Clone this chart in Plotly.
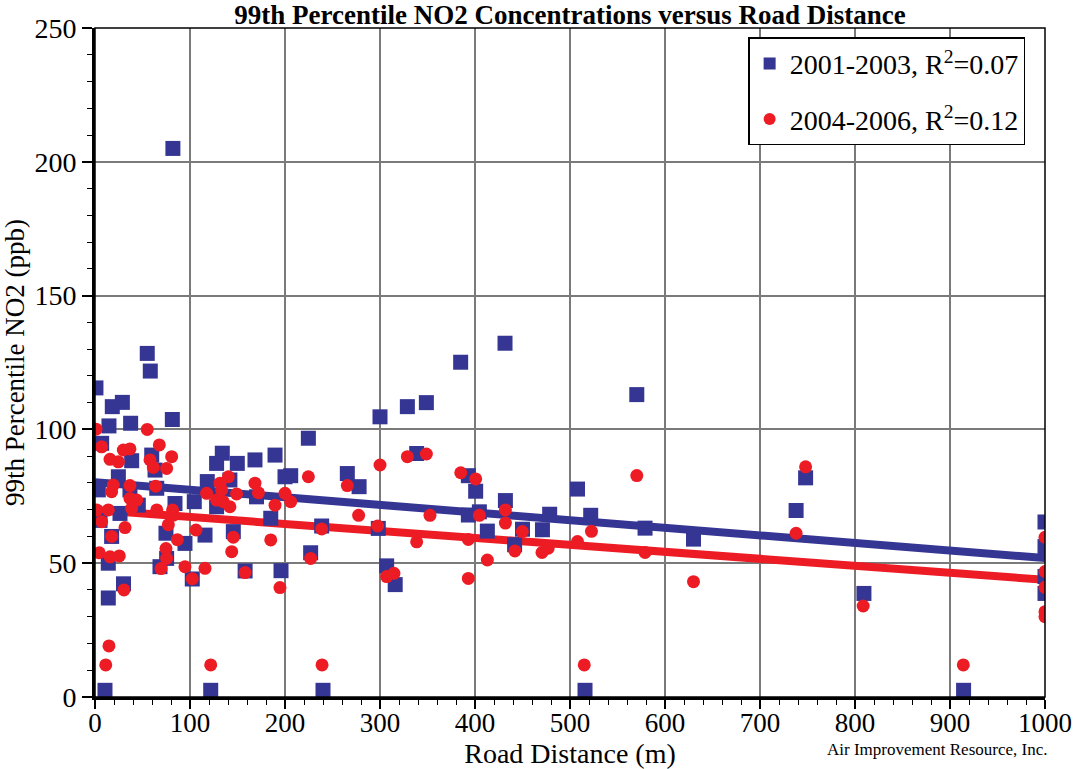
import plotly.graph_objects as go

# 2001-2003 series (blue squares)
blue_x = [1, 3.5, 5.3, 7, 10.5, 14, 14, 14.7, 17.5, 18.2, 24.6, 26.3, 28.8, 30, 36.8, 37.5, 38.6, 45.6,
          55, 58.2, 59.7, 63.2, 65, 68.4, 74.7, 75.4, 81.4, 82, 84.2, 94.7, 102.4, 104.5, 115.8, 118.2,
          121.8, 128, 128, 134, 142, 145.6, 149.8, 158, 168.4, 170, 185, 189.5, 195.8, 200, 206, 224.6,
          227, 238.6, 240, 265.6, 278, 298.2, 300, 307, 316, 328.8, 338.6, 348.8, 384.9, 393, 393, 400.7,
          404.6, 413, 431.6, 432, 441.7, 450, 471, 478.6, 507.9, 515.8, 521.8, 570.3, 579, 630, 738, 748,
          809.4, 914.3, 1000, 1000, 1000, 1000]
blue_y = [115.5, 77.4, 66, 94.8, 2.5, 50, 37, 101.3, 60, 108.5, 82.3, 68.6, 110.1, 42.3, 77.4, 102.3, 88.3, 71.7,
          128.4, 121.8, 90.4, 84.8, 78, 48.7, 61.2, 51.8, 103.7, 205, 72.3, 57.4, 44.1, 73, 60.5, 80.5,
          2.5, 87.3, 71.1, 91.1, 81.1, 61.8, 87.3, 47.1, 88.6, 74.8, 66.8, 90.4, 47.2, 82.3, 82.7, 96.7,
          53.9, 63.9, 2.5, 83.5, 78.6, 63, 104.7, 49, 42, 108.5, 91, 110, 125.1, 82.7, 68, 76.9,
          69.2, 62, 132.2, 73.4, 56.9, 62.7, 62.5, 68.3, 77.7, 2.5, 67.9, 113, 63.1, 59, 69.7, 81.9,
          38.7, 2.5, 65.4, 56.2, 45, 38.7]

# 2004-2006 series (red circles)
red_x = [1.1, 1.8, 4.5, 7, 7, 11.3, 14, 14.7, 15.8, 15.8, 17.5, 17.5, 19.3, 24.6, 25.6, 29.8, 30.5, 31.6,
         36.8, 36.8, 36.8, 38.6, 43.9, 55, 57.9, 61.4, 63.9, 65, 67.7, 69.5, 74.7, 75.4, 75.4, 77.2,
         80.7, 81.7, 82.5, 86.7, 94.7, 102.4, 106.3, 115.8, 117.5, 121.8, 128, 131.6, 133.3, 135, 140.4,
         142, 143.9, 145.6, 149, 158, 168.4, 172, 185, 189.5, 194.7, 200, 206, 224.6, 227, 238.6, 239,
         265.6, 277.5, 297.5, 300, 307, 314.7, 328.8, 338.6, 348.8, 352.6, 385, 393, 393, 400.7, 404.6,
         413, 432, 432, 442, 449.8, 470.5, 477, 507.9, 515, 522.6, 570.3, 579, 630, 738, 748, 808.6,
         914, 1000, 1000, 1000, 1000, 1000]
red_y = [100.1, 69.9, 53.9, 93.5, 65.5, 12, 69.9, 19.1, 88.8, 52.4, 76.7, 60, 79.2, 87.9, 52.7, 92.3, 40, 63.3,
         92.7, 79, 74.2, 70.5, 73.6, 100, 88.6, 85.8, 78.8, 69.9, 94.2, 48, 55.5, 51.8, 85.4, 64.4,
         89.8, 69.9, 68, 58.8, 48.7, 44.2, 62.4, 48.1, 76.1, 12, 73.6, 79.9, 77.4, 73, 82.3,
         71.1, 54.3, 59.7, 75.9, 46.5, 79.9, 76.3, 58.7, 71.7, 40.9, 76.1, 73, 82.3, 51.8, 62.8, 12,
         79, 67.9, 63.9, 86.7, 45, 46.2, 89.8, 58, 90.8, 67.9, 83.8, 58.9, 44.3, 81.5, 67.9,
         51.2, 69.9, 65, 54.6, 61.8, 54, 55.6, 58.1, 12, 61.9, 82.75, 54, 43.1, 61.2, 86, 34,
         12, 59.7, 46.9, 41, 31.9, 30]

# Trend lines (value at 0 m and at 1000 m)
fit_x = [0, 1000]
blue_fit = [80.3, 51.9]
red_fit = [69.9, 43.8]

BLUE = "#353594"
RED = "#ED1C24"
FONT = "Liberation Serif"

fig = go.Figure()
fig.add_trace(go.Scatter(x=fit_x, y=blue_fit, mode="lines", line=dict(color=BLUE, width=8),
                         showlegend=False, hoverinfo="skip"))
fig.add_trace(go.Scatter(x=fit_x, y=red_fit, mode="lines", line=dict(color=RED, width=8),
                         showlegend=False, hoverinfo="skip"))
fig.add_trace(go.Scatter(x=blue_x, y=blue_y, mode="markers", name="2001-2003, R<sup>2</sup>=0.07",
                         legendgroup="a",
                         marker=dict(symbol="square", size=15, color=BLUE, line=dict(width=0))))
fig.add_trace(go.Scatter(x=red_x, y=red_y, mode="markers", name="2004-2006, R<sup>2</sup>=0.12",
                         legendgroup="b",
                         marker=dict(symbol="circle", size=13, color=RED, line=dict(width=0))))

fig.update_layout(
    width=1080, height=769,
    margin=dict(l=95, r=35, t=28, b=72, autoexpand=False),
    paper_bgcolor="white", plot_bgcolor="white",
    font=dict(family=FONT, color="black"),
    title=dict(text="<b>99th Percentile NO2 Concentrations versus Road Distance</b>",
               x=0.5278, xanchor="center", y=0.981, yanchor="middle",
               font=dict(size=27, family=FONT, color="black")),
    legend=dict(x=0.6875, y=0.986, xanchor="left", yanchor="top",
                bgcolor="white", bordercolor="black", borderwidth=1.5,
                font=dict(size=28, family=FONT), tracegroupgap=16,
                itemsizing="constant"),
    xaxis=dict(range=[0, 1000], dtick=100, tick0=0, automargin=False,
               showgrid=True, gridcolor="#7a7a7a", gridwidth=1.5,
               showline=True, linecolor="black", linewidth=3,
               ticks="outside", ticklen=9, tickwidth=1.5, tickcolor="black",
               ticklabelstandoff=-9,
               minor=dict(dtick=20, ticks="outside", ticklen=5, tickwidth=1, tickcolor="black", showgrid=False),
               tickfont=dict(size=27, family=FONT),
               title=dict(text="Road Distance (m)", font=dict(size=28, family=FONT), standoff=0),
               zeroline=False),
    yaxis=dict(range=[0, 250], dtick=50, tick0=0, automargin=False,
               showgrid=True, gridcolor="#7a7a7a", gridwidth=1.5,
               showline=True, linecolor="black", linewidth=3,
               ticks="outside", ticklen=10, tickwidth=1.5, tickcolor="black",
               minor=dict(dtick=10, ticks="outside", ticklen=5, tickwidth=1, tickcolor="black", showgrid=False),
               tickfont=dict(size=28, family=FONT),
               title=dict(text="99th Percentile NO2 (ppb)", font=dict(size=27, family=FONT), standoff=8),
               zeroline=False),
    shapes=[dict(type="rect", xref="paper", yref="paper", x0=0, y0=0, x1=1, y1=1,
                 line=dict(color="black", width=1.5), layer="above")],
    annotations=[dict(text="Air Improvement Resource, Inc.", xref="paper", yref="paper",
                      x=1.004, y=-0.078, xanchor="right", yanchor="middle", showarrow=False,
                      font=dict(size=17, family=FONT, color="black"))],
)

fig.write_html("out.html")
